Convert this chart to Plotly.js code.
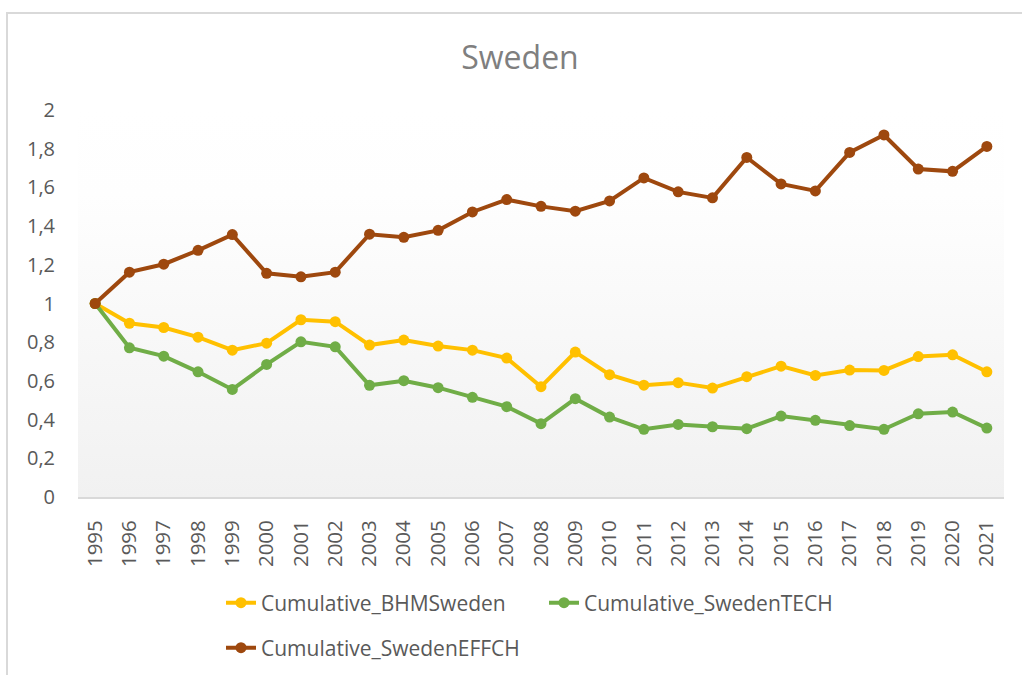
<!DOCTYPE html>
<html>
<head>
<meta charset="utf-8">
<script src="https://cdn.plot.ly/plotly-3.0.1.min.js"></script>
<style>
  html, body { margin: 0; padding: 0; overflow: hidden; background: #ffffff; }
  #chart { width: 1022px; height: 675px; }
</style>
</head>
<body>
<div id="chart"></div>
<script>
// ---- data ----
const years = ["1995","1996","1997","1998","1999","2000","2001","2002","2003","2004","2005","2006","2007","2008","2009","2010","2011","2012","2013","2014","2015","2016","2017","2018","2019","2020","2021"];
const bhmSweden = [1, 0.898, 0.876, 0.826, 0.759, 0.795, 0.916, 0.906, 0.785, 0.811, 0.780, 0.759, 0.718, 0.570, 0.749, 0.632, 0.578, 0.591, 0.563, 0.622, 0.676, 0.628, 0.656, 0.654, 0.726, 0.735, 0.647];
const swedenTech = [1, 0.771, 0.728, 0.647, 0.556, 0.685, 0.802, 0.776, 0.577, 0.601, 0.565, 0.515, 0.467, 0.379, 0.508, 0.413, 0.350, 0.375, 0.363, 0.353, 0.418, 0.396, 0.369, 0.350, 0.430, 0.439, 0.356];
const swedenEffch = [1, 1.162, 1.203, 1.275, 1.356, 1.156, 1.138, 1.162, 1.358, 1.342, 1.378, 1.473, 1.537, 1.502, 1.477, 1.530, 1.649, 1.577, 1.546, 1.755, 1.618, 1.582, 1.781, 1.871, 1.695, 1.683, 1.812];
const seriesNames = ["Cumulative_BHMSweden", "Cumulative_SwedenTECH", "Cumulative_SwedenEFFCH"];
const chartTitle = "Sweden";

const FONT = "Open Sans, Noto Sans, sans-serif";
const colors = ["#FFC000", "#70AD47", "#9E480E"];

function mk(y, i, legend) {
  return {
    type: "scatter", mode: "lines+markers",
    x: years, y: y, name: seriesNames[i],
    line: { color: colors[i], width: 4 },
    marker: { color: colors[i], size: 11 },
    legend: legend,
    cliponaxis: false
  };
}

const traces = [
  mk(bhmSweden, 0, "legend"),
  mk(swedenTech, 1, "legend"),
  mk(swedenEffch, 2, "legend2")
];

const gradSvg = '<svg xmlns="http://www.w3.org/2000/svg" width="100" height="100" preserveAspectRatio="none">' +
  '<defs><linearGradient id="g" x1="0" y1="0" x2="0" y2="1">' +
  '<stop offset="0" stop-color="#ffffff"/><stop offset="0.22" stop-color="#fefefe"/><stop offset="1" stop-color="#f1f1f1"/>' +
  '</linearGradient></defs><rect width="100" height="100" fill="url(#g)"/></svg>';
const gradUri = "data:image/svg+xml;base64," + btoa(gradSvg);

const L = 78, R = 18, T = 110, B = 178, W = 1022, H = 675;
const pw = W - L - R, ph = H - T - B;
const px2x = p => (p - L) / pw;
const px2y = p => (H - B - p) / ph;

const legendFont = { family: FONT, size: 21, color: "#595959" };

const layout = {
  width: W, height: H,
  margin: { l: L, r: R, t: T, b: B, pad: 0, autoexpand: false },
  paper_bgcolor: "#ffffff",
  plot_bgcolor: "rgba(0,0,0,0)",
  separators: ", ",
  font: { family: FONT, color: "#595959", size: 20 },
  title: {
    text: chartTitle,
    font: { family: FONT, size: 32, color: "#7f7f7f" },
    xref: "container", yref: "container",
    x: 520 / W, xanchor: "center",
    y: 1 - 58 / H, yanchor: "middle"
  },
  xaxis: {
    type: "category",
    range: [-0.5, years.length - 0.5],
    tickangle: -90,
    ticks: "outside", ticklen: 13, tickcolor: "rgba(0,0,0,0)",
    showgrid: false, zeroline: false,
    showline: true, linecolor: "#d9d9d9", linewidth: 2,
    tickfont: { family: FONT, size: 20.5, color: "#595959" },
    fixedrange: true
  },
  yaxis: {
    range: [0, 2], dtick: 0.2, tick0: 0,
    ticks: "outside", ticklen: 18, tickcolor: "rgba(0,0,0,0)",
    showgrid: false, zeroline: false, showline: false,
    tickfont: { family: FONT, size: 20, color: "#595959" },
    fixedrange: true
  },
  showlegend: true,
  legend: {
    orientation: "h",
    x: px2x(221), xanchor: "left",
    y: px2y(603), yanchor: "middle",
    font: legendFont,
    entrywidth: 278, entrywidthmode: "pixels",
    bgcolor: "rgba(0,0,0,0)", borderwidth: 0
  },
  legend2: {
    orientation: "h",
    x: px2x(221), xanchor: "left",
    y: px2y(648), yanchor: "middle",
    font: legendFont,
    bgcolor: "rgba(0,0,0,0)", borderwidth: 0
  },
  images: [{
    source: gradUri, xref: "paper", yref: "paper",
    x: 0, y: 1, sizex: 1, sizey: 1, sizing: "stretch",
    xanchor: "left", yanchor: "top", layer: "below"
  }],
  shapes: [{
    type: "path", xref: "paper", yref: "paper",
    path: "M " + px2x(1040) + "," + px2y(13) + " L " + px2x(7) + "," + px2y(13) + " L " + px2x(7) + "," + px2y(690),
    line: { color: "#d9d9d9", width: 2 }
  }]
};

Plotly.newPlot("chart", traces, layout, { displayModeBar: false, staticPlot: true });
</script>
</body>
</html>
